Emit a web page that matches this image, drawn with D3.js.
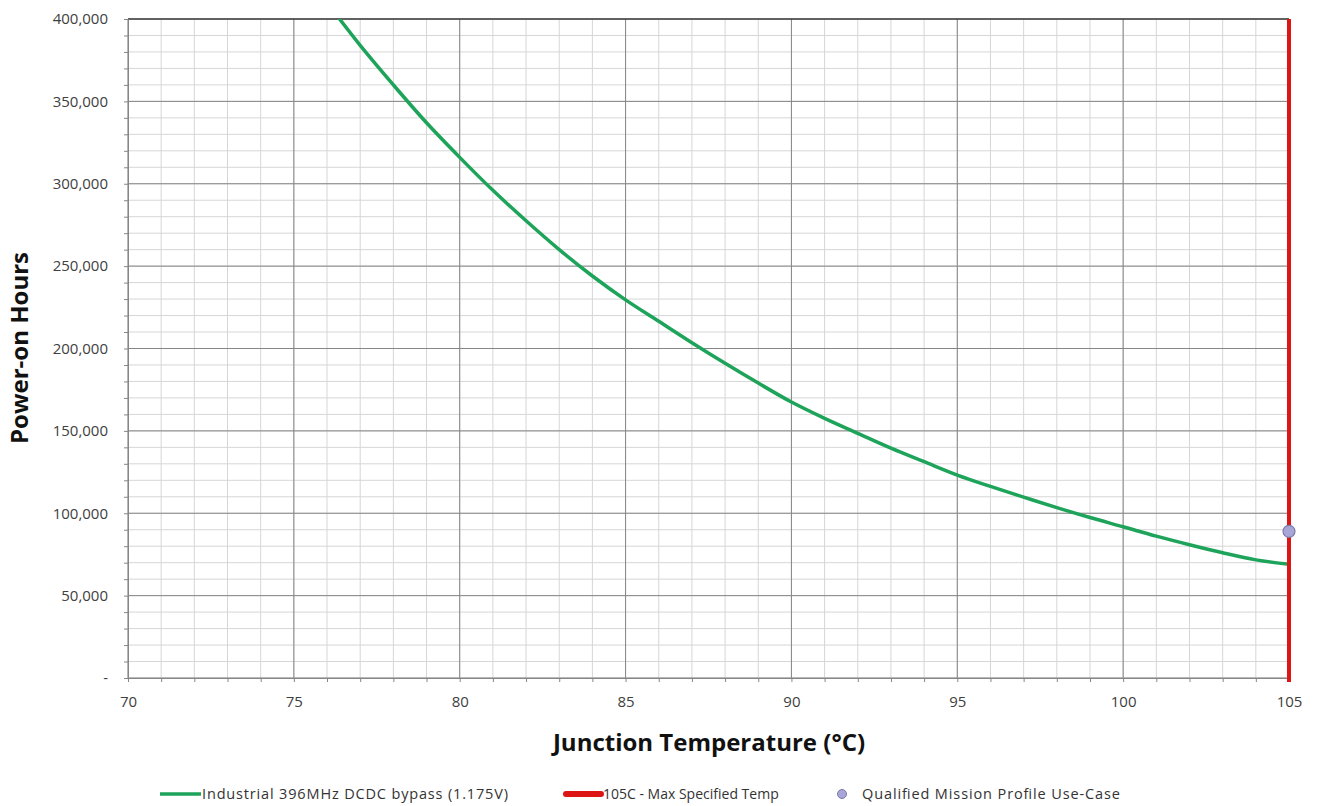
<!DOCTYPE html>
<html lang="en">
<head>
  <meta charset="utf-8">
  <title>Power-on Hours vs Junction Temperature</title>
  <style>
    body { margin: 0; background: #fff; }
    svg text { font-family: 'Open Sans', 'DejaVu Sans', sans-serif; fill: #404040; }
  </style>
  <script src="https://d3js.org/d3.v7.min.js"></script>
</head>
<body>
  <svg id="chart" width="1320" height="806"></svg>
  <script>
    // values
    var temps = [76, 77, 78, 79, 80, 81, 82, 83, 84, 85, 86, 87, 88, 89, 90,
                 91, 92, 93, 94, 95, 96, 97, 98, 99, 100, 101, 102, 103, 104, 105];
    var hours = [410000, 384000, 360000, 337000, 316000, 296000, 277500, 260000, 244000, 229500,
                 216500, 203500, 191000, 179000, 167500, 157600, 148500, 139500, 131300, 123200,
                 116300, 109800, 103400, 97400, 91800, 86100, 80900, 76000, 71700, 69000];
    var maxTemp = 105;
    var missionPoint = [105, 89000];
    var xTicks = [70, 75, 80, 85, 90, 95, 100, 105];
    var yTicks = [0, 50000, 100000, 150000, 200000, 250000, 300000, 350000, 400000];
    var legendLabels = ["Industrial 396MHz DCDC bypass (1.175V)", "105C - Max Specified Temp", "Qualified Mission Profile Use-Case"];

    var svg = d3.select("#chart");
    var pl = 128, pr = 1289, pt = 19, pb = 678;

    var x = d3.scaleLinear().domain([70, 105]).range([pl, pr]);
    var y = d3.scaleLinear().domain([0, 400000]).range([pb, pt]);

    var minorX = d3.range(70, 106, 1);
    var minorY = d3.range(0, 400001, 10000);

    // minor grid
    svg.append("g").selectAll("line").data(minorX).join("line")
      .attr("x1", d => x(d)).attr("x2", d => x(d))
      .attr("y1", pt).attr("y2", pb)
      .attr("stroke", "#d6d6d6").attr("stroke-width", 1);
    svg.append("g").selectAll("line").data(minorY).join("line")
      .attr("x1", pl).attr("x2", pr)
      .attr("y1", d => y(d)).attr("y2", d => y(d))
      .attr("stroke", "#d6d6d6").attr("stroke-width", 1);

    // major grid
    svg.append("g").selectAll("line").data(xTicks).join("line")
      .attr("x1", d => x(d)).attr("x2", d => x(d))
      .attr("y1", pt).attr("y2", pb)
      .attr("stroke", "#868686").attr("stroke-width", 1);
    svg.append("g").selectAll("line").data(yTicks).join("line")
      .attr("x1", pl).attr("x2", pr)
      .attr("y1", d => y(d)).attr("y2", d => y(d))
      .attr("stroke", d => d === 400000 ? "#333" : "#868686")
      .attr("stroke-width", d => d === 400000 ? 1.5 : 1);

    // axes
    var fmt = d => d === 0 ? "-" : d3.format(",")(d);
    var yAxis = svg.append("g").attr("transform", "translate(" + pl + ",0)")
      .call(d3.axisLeft(y).tickValues(minorY).tickSize(4).tickFormat(d => yTicks.includes(d) ? fmt(d) : ""));
    var xAxis = svg.append("g").attr("transform", "translate(0," + pb + ")")
      .call(d3.axisBottom(x).tickValues(minorX).tickSize(4).tickFormat(d => xTicks.includes(d) ? d : ""));
    [yAxis, xAxis].forEach(function (a) {
      a.select(".domain").attr("stroke", "#868686");
      a.selectAll(".tick line").attr("stroke", "#868686");
      a.selectAll("text").attr("font-size", 15).attr("fill", "#3a3a3a")
        .style("font-family", "'Open Sans', sans-serif");
    });
    yAxis.selectAll("text").attr("x", -20);
    xAxis.selectAll("text").attr("y", 18);

    // titles
    svg.append("text").attr("x", 709).attr("y", 751).attr("text-anchor", "middle")
      .attr("font-size", 24).attr("font-weight", "bold").style("fill", "#111")
      .text("Junction Temperature (°C)");
    svg.append("text").attr("transform", "translate(28,348) rotate(-90)")
      .attr("text-anchor", "middle").attr("font-size", 24).attr("font-weight", "bold")
      .style("fill", "#111").text("Power-on Hours");

    // curve
    svg.append("clipPath").attr("id", "plotclip").append("rect")
      .attr("x", pl).attr("y", pt).attr("width", pr - pl + 4).attr("height", pb - pt);
    var line = d3.line().x(d => x(d[0])).y(d => y(d[1])).curve(d3.curveMonotoneX);
    svg.append("path").datum(d3.zip(temps, hours))
      .attr("clip-path", "url(#plotclip)")
      .attr("d", line).attr("fill", "none")
      .attr("stroke", "#1ea45a").attr("stroke-width", 3.5);

    // max temp line
    svg.append("line").attr("x1", x(maxTemp)).attr("x2", x(maxTemp))
      .attr("y1", y(400000)).attr("y2", y(0) + 4)
      .attr("stroke", "#dd1515").attr("stroke-width", 4);

    // mission point
    svg.append("circle").attr("cx", x(missionPoint[0])).attr("cy", y(missionPoint[1]))
      .attr("r", 6).attr("fill", "#a8a6d6").attr("stroke", "#7c7aa8").attr("stroke-width", 1.2);

    // legend
    var lg = svg.append("g").attr("transform", "translate(0,794)");
    lg.append("line").attr("x1", 160).attr("x2", 201).attr("y1", 0).attr("y2", 0)
      .attr("stroke", "#1ea45a").attr("stroke-width", 3.5);
    lg.append("text").attr("x", 202).attr("y", 5).attr("font-size", 14.5).style("fill", "#333")
      .attr("textLength", 306).attr("lengthAdjust", "spacing").text(legendLabels[0]);
    lg.append("line").attr("x1", 566).attr("x2", 601).attr("y1", 0).attr("y2", 0)
      .attr("stroke", "#dd1515").attr("stroke-width", 6).attr("stroke-linecap", "round");
    lg.append("text").attr("x", 603).attr("y", 5).attr("font-size", 14).style("fill", "#333")
      .text(legendLabels[1]);
    lg.append("circle").attr("cx", 842).attr("cy", 0).attr("r", 4.5)
      .attr("fill", "#a8a6d6").attr("stroke", "#7c7aa8");
    lg.append("text").attr("x", 862).attr("y", 5).attr("font-size", 14.5).style("fill", "#333")
      .attr("textLength", 258).attr("lengthAdjust", "spacing").text(legendLabels[2]);
  </script>
</body>
</html>
